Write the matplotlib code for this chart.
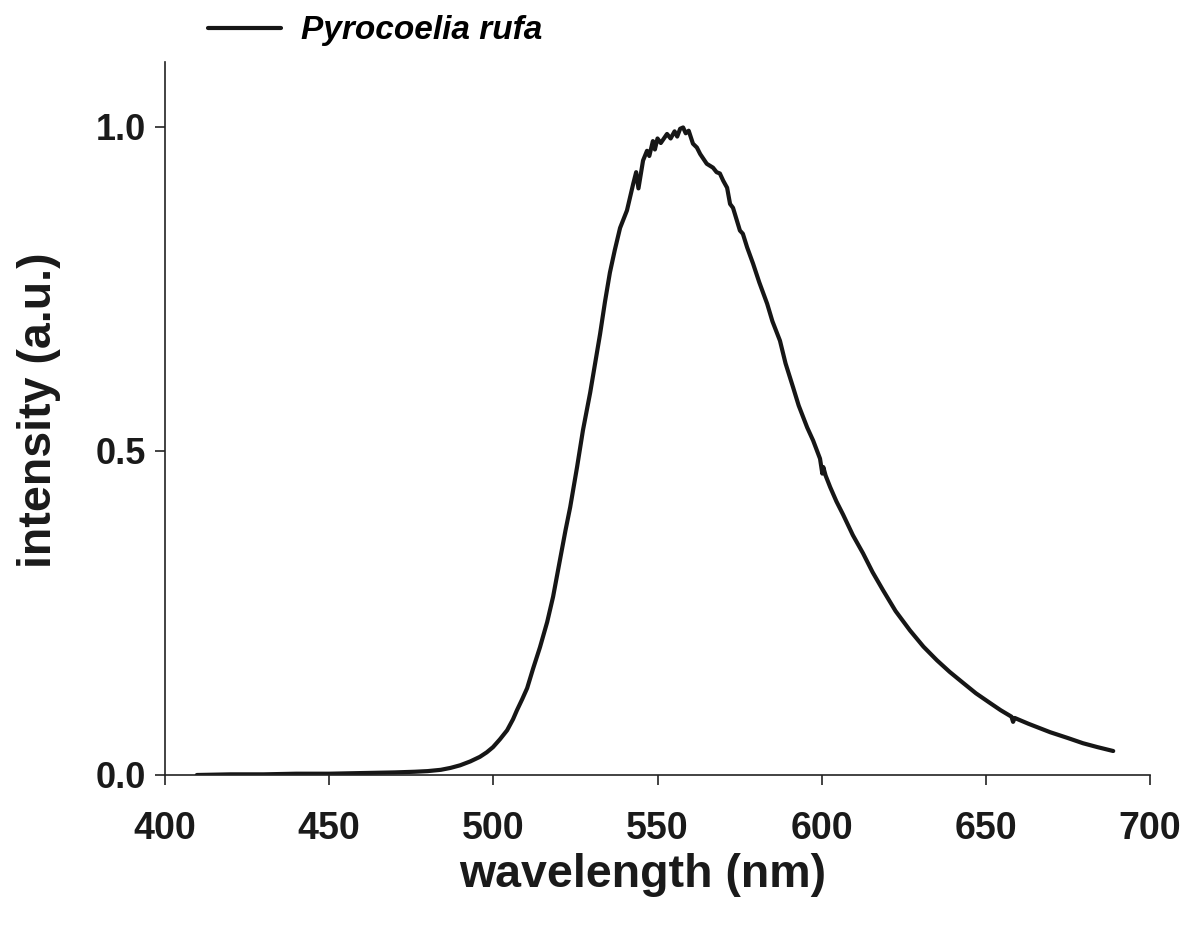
import matplotlib
matplotlib.use("Agg")
import matplotlib.pyplot as plt

wavelength = [409.7, 420, 430, 440, 450, 460, 470, 476, 480, 484, 487, 489.9, 493, 495.9,
              498, 499.9, 502, 504.2, 506, 507.2, 508.8, 510.3, 512.1, 514.2, 516.4, 518.2,
              520.3, 522, 523.4, 525.5, 527.3, 529.5, 531, 532.5, 534, 535.5, 537, 538.6,
              540.7, 542.6, 543.5, 544.2, 545.6, 546.8, 547.5, 548.6, 549.2, 550, 551,
              552.9, 554, 555.2, 556, 556.9, 557.8, 558.6, 559.5, 560.8, 562, 563, 565,
              566.9, 568, 569, 570, 571.2, 572.1, 573, 575.1, 576, 577.3, 579.1, 581,
              583.4, 585, 587.3, 589, 591.3, 593, 595.6, 597.4, 599.5, 600.2, 600.5,
              601.2, 602.6, 604.5, 606.5, 609.5, 612.6, 615.5, 618.7, 622.5, 626.9, 631,
              635.1, 639, 643.1, 647, 651.3, 654.5, 657.8, 658.3, 658.8, 663, 669.6,
              675, 679.6, 684, 688.8]
intensity = [0.0, 0.001, 0.001, 0.002, 0.002, 0.003, 0.004, 0.005, 0.006, 0.008, 0.011,
             0.015, 0.021, 0.028, 0.035, 0.043, 0.055, 0.069, 0.086, 0.1, 0.117, 0.134,
             0.164, 0.197, 0.236, 0.275, 0.332, 0.378, 0.413, 0.475, 0.532, 0.59, 0.635,
             0.68, 0.73, 0.775, 0.81, 0.844, 0.871, 0.912, 0.93, 0.905, 0.948, 0.963,
             0.955, 0.978, 0.965, 0.982, 0.975, 0.989, 0.982, 0.993, 0.985, 0.997, 0.999,
             0.99, 0.994, 0.974, 0.968, 0.958, 0.943, 0.937, 0.93, 0.928, 0.917, 0.906,
             0.881, 0.875, 0.84, 0.835, 0.814, 0.789, 0.76, 0.727, 0.70, 0.67, 0.635,
             0.598, 0.57, 0.536, 0.516, 0.488, 0.465, 0.475, 0.462, 0.444, 0.422, 0.402,
             0.37, 0.342, 0.313, 0.285, 0.253, 0.223, 0.198, 0.177, 0.159, 0.142, 0.126,
             0.111, 0.1, 0.09, 0.082, 0.088, 0.079, 0.066, 0.057, 0.049, 0.043, 0.037]

x_ticks = [400, 450, 500, 550, 600, 650, 700]
y_ticks = [0.0, 0.5, 1.0]
series_label = "Pyrocoelia rufa"

plt.rcParams['font.family'] = ['Liberation Sans', 'DejaVu Sans']

fig = plt.figure(figsize=(11.85, 9.26), dpi=100)
ax = fig.add_axes([165/1185, 1-775/926, (1150-165)/1185, (775-62)/926])

line, = ax.plot(wavelength, intensity, color='#161616', lw=3.0,
                solid_joinstyle='round', solid_capstyle='round')

ax.set_xlim(400, 700)
ax.set_ylim(0, 1.1)
ax.set_xticks(x_ticks)
ax.set_xticklabels([str(t) for t in x_ticks])
ax.set_yticks(y_ticks)
ax.set_yticklabels([f"{t:.1f}" for t in y_ticks])

for s in ['top', 'right']:
    ax.spines[s].set_visible(False)
for s in ['left', 'bottom']:
    ax.spines[s].set_linewidth(1.2)
    ax.spines[s].set_color('#222222')

ax.tick_params(axis='both', direction='out', length=7, width=1.2, color='#222222')
ax.tick_params(axis='x', pad=19, labelsize=27)
ax.tick_params(axis='y', pad=7, labelsize=26)
for lab in ax.get_xticklabels() + ax.get_yticklabels():
    lab.set_fontweight('bold')
    lab.set_color('#1a1a1a')

ax.set_xlabel("wavelength (nm)", fontsize=33.5, fontweight='bold', color='#1a1a1a')
ax.set_ylabel("intensity (a.u.)", fontsize=33.5, fontweight='bold', color='#1a1a1a')
ax.xaxis.set_label_coords((643 - 165) / 985, (775 - 853) / 713)
ax.yaxis.set_label_coords((61 - 165) / 985, (775 - 410) / 713)

leg = fig.legend([line], [series_label], loc='center left',
                 bbox_to_anchor=(208/1185, 1-31/926), frameon=False,
                 prop={'size': 24, 'weight': 'bold', 'style': 'italic'},
                 handlelength=2.2, handletextpad=0.6, borderpad=0, borderaxespad=0)

fig.savefig("out.png", dpi=100)
